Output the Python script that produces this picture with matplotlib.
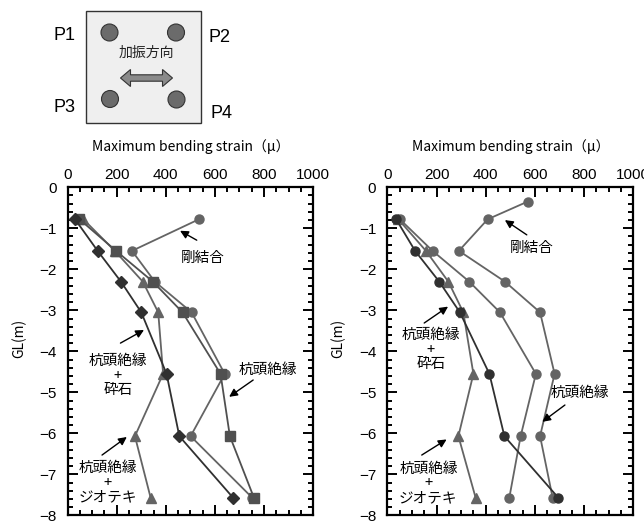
import numpy as np
import matplotlib
matplotlib.use("Agg")
from matplotlib import pyplot as plt
from matplotlib.patches import Rectangle, Circle, Polygon
from matplotlib.ticker import MultipleLocator

plt.rcParams['font.family'] = ['Liberation Sans', 'Noto Sans CJK JP', 'DejaVu Sans']
JP = ['Noto Sans CJK JP', 'DejaVu Sans']

# depths of the strain gauges (m)
depth = [-0.78, -1.55, -2.3, -3.05, -4.55, -6.07, -7.57]
depth_rigid_b = [-0.35, -0.78, -1.55, -2.3, -3.05, -4.55, -6.07, -7.57]

# left: maximum bending strain (micro)
rigid_a = [535, 262, 355, 505, 640, 501, 752]
insul_a = [48, 197, 347, 468, 623, 661, 759]
gravel_a = [30, 122, 217, 300, 403, 455, 674]
geotex_a = [64, 192, 306, 369, 389, 274, 338]

# right
rigid_b = [570, 408, 291, 478, 621, 680, 621, 672]
insul_b = [51, 184, 333, 458, 604, 542, 496]
gravel_b = [36, 113, 211, 295, 415, 476, 695]
geotex_b = [45, 157, 248, 309, 350, 289, 359]

DARK = '#303030'
GRAY = '#646464'

fig = plt.figure(figsize=(6.44, 5.22), dpi=100)

# pile layout sketch drawn in pixel space
sk = fig.add_axes([0, 0, 1, 1], zorder=0)
sk.set_xlim(0, 644)
sk.set_ylim(522, 0)
sk.axis('off')
sk.add_patch(Rectangle((86, 11), 115, 112, facecolor='#efefef', edgecolor='#333333', lw=1.0))
for cx, cy in [(109.5, 32.5), (176, 32.5), (110, 99), (176.5, 99.5)]:
    sk.add_patch(Circle((cx, cy), 8.5, facecolor='#6b6b6b', edgecolor='#333333', lw=0.8))
for txt, px, py in [('P1', 65, 35), ('P2', 220, 37), ('P3', 65, 107), ('P4', 222, 113)]:
    sk.text(px, py, txt, fontsize=13, ha='center', va='center', family='Liberation Sans')
sk.text(146, 53, '加振方向', fontsize=10, ha='center', va='center', family=JP, color='#222222')

# double headed block arrow
ax_c, ay_c, half, body, head_w, head_l = 146.5, 78, 26, 3.2, 8.5, 10
pts = [(ax_c - half, ay_c), (ax_c - half + head_l, ay_c - head_w), (ax_c - half + head_l, ay_c - body),
       (ax_c + half - head_l, ay_c - body), (ax_c + half - head_l, ay_c - head_w), (ax_c + half, ay_c),
       (ax_c + half - head_l, ay_c + head_w), (ax_c + half - head_l, ay_c + body),
       (ax_c - half + head_l, ay_c + body), (ax_c - half + head_l, ay_c + head_w)]
sk.add_patch(Polygon(pts, closed=True, facecolor='#8a8a8a', edgecolor='#333333', lw=0.8))


def setup(ax):
    ax.set_xlim(0, 1000)
    ax.set_ylim(-8, 0)
    ax.xaxis.set_major_locator(MultipleLocator(200))
    ax.xaxis.set_minor_locator(MultipleLocator(50))
    ax.yaxis.set_major_locator(MultipleLocator(1))
    ax.yaxis.set_minor_locator(MultipleLocator(0.2))
    ax.tick_params(which='both', direction='in', top=True, bottom=True, left=True, right=True,
                   labeltop=True, labelbottom=False, width=1.4)
    ax.tick_params(which='major', length=7, labelsize=11)
    ax.tick_params(which='minor', length=3.5)
    ax.tick_params(axis='x', pad=4)
    ax.tick_params(axis='y', pad=8)
    for s in ax.spines.values():
        s.set_linewidth(1.6)
    ax.set_ylabel('GL(m)', family=JP, fontsize=10, labelpad=4)
    ax.yaxis.set_label_coords(-0.17, 0.54)
    ax.set_xlabel('Maximum bending strain（μ）', family=JP, fontsize=10, labelpad=12)
    ax.xaxis.set_label_position('top')


def arrow(ax, tail, tip):
    ax.annotate('', xy=tip, xytext=tail,
                arrowprops=dict(arrowstyle='-|>', color='black', lw=1.0,
                                mutation_scale=12, shrinkA=0, shrinkB=0))


def label(ax, x, y, s):
    ax.text(x, y, s, family=JP, fontsize=10.5, ha='center', va='center', linespacing=1.05)


lk = dict(lw=1.3, zorder=3)

axL = fig.add_axes([0.1051, 0.0128, 0.381, 0.6284])
setup(axL)
axL.plot(rigid_a, depth, marker='o', ms=6.5, color=GRAY, **lk)
axL.plot(geotex_a, depth, marker='^', ms=7.5, color=GRAY, **lk)
axL.plot(insul_a, depth, marker='s', ms=6.5, color='#505050', **lk)
axL.plot(gravel_a, depth, marker='D', ms=6.5, color=DARK, **lk)

label(axL, 552, -1.72, '剛結合')
arrow(axL, (526, -1.29), (458, -1.06))
label(axL, 205, -4.6, '杭頭絶縁\n+\n砕石')
arrow(axL, (215, -3.8), (311, -3.48))
label(axL, 815, -4.46, '杭頭絶縁')
arrow(axL, (756, -4.7), (658, -5.11))
label(axL, 164, -7.2, '杭頭絶縁\n+\nジオテキ')
arrow(axL, (140, -6.53), (241, -6.09))

axR = fig.add_axes([0.6014, 0.0128, 0.382, 0.6284])
setup(axR)
axR.plot(rigid_b, depth_rigid_b, marker='o', ms=6.5, color=GRAY, **lk)
axR.plot(insul_b, depth, marker='o', ms=6.5, color=GRAY, **lk)
axR.plot(geotex_b, depth, marker='^', ms=7.5, color=GRAY, **lk)
axR.plot(gravel_b, depth, marker='o', ms=6.5, color=DARK, **lk)

label(axR, 587, -1.48, '剛結合')
arrow(axR, (567, -1.16), (478, -0.8))
label(axR, 177, -3.96, '杭頭絶縁\n+\n砕石')
arrow(axR, (150, -3.31), (247, -2.91))
label(axR, 783, -5.02, '杭頭絶縁')
arrow(axR, (722, -5.31), (630, -5.72))
label(axR, 167, -7.22, '杭頭絶縁\n+\nジオテキ')
arrow(axR, (140, -6.53), (241, -6.15))

fig.savefig('out.png', dpi=100)
